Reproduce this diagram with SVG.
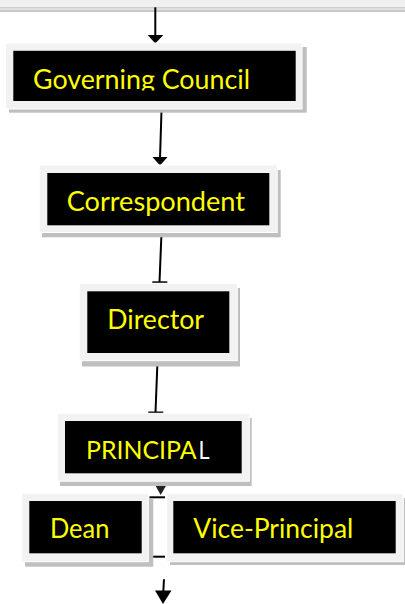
<svg xmlns="http://www.w3.org/2000/svg" width="405" height="604" viewBox="0 0 405 604">
<style>
.shadow{fill:#bfbfbf}
.frame{fill:#f2f2f2;stroke:#ffffff;stroke-width:1}
.inner{fill:#000000}
.lbl{font-family:Lato,"Open Sans","Noto Sans",sans-serif;font-size:26px;fill:#ffff00}
.pl{font-size:25.3px}
.ln{stroke:#000000;stroke-width:2;fill:none}
.bar{stroke:#000000;stroke-width:2}
</style>
<defs>
<clipPath id="gcclip"><rect x="13" y="51" width="283" height="39.5"/></clipPath>
</defs>
<rect x="0" y="0" width="405" height="7.3" fill="#f0f0f0"/>
<rect x="0" y="7.3" width="405" height="1.2" fill="#bdbdbd"/>
<rect x="0" y="9.5" width="405" height="2.6" fill="#c8c8c8"/>

<g id="connectors">
<line class="ln" x1="155.3" y1="7.3" x2="155.3" y2="37"/>
<polygon points="147.7,35 163.3,35 155.3,43.5" fill="#000"/>
<line class="ln" x1="161.5" y1="110" x2="160" y2="159"/>
<polygon points="152.5,157 167.5,157 160,165.5" fill="#000"/>
<line class="ln" x1="161.5" y1="233" x2="159.5" y2="282"/>
<line class="bar" x1="152.3" y1="282.3" x2="167.3" y2="282.3"/>
<line class="ln" x1="157.5" y1="361" x2="155.5" y2="412"/>
<line class="bar" x1="148.3" y1="412.5" x2="163.3" y2="412.5"/>
<polygon points="153.3,481.7 168.3,481.7 160.7,495" fill="#222"/>
<line class="bar" x1="149.5" y1="497.3" x2="165" y2="497.3"/>
<line class="bar" x1="149.5" y1="556.7" x2="165" y2="556.7"/>
<line class="ln" x1="164" y1="579.3" x2="163.2" y2="593"/>
<polygon points="155,590.5 171.5,590.5 163,604" fill="#000"/>
</g>

<g id="governing-council">
<rect class="shadow" x="9" y="47" width="297.7" height="65.7"/>
<rect class="frame" x="5.5" y="43" width="296.5" height="66"/>
<rect class="inner" x="13.3" y="50.8" width="282.4" height="50.2"/>
<text class="lbl" x="33" y="89" textLength="217" lengthAdjust="spacingAndGlyphs" clip-path="url(#gcclip)">Governing Council</text>
</g>

<g id="correspondent">
<rect class="shadow" x="42" y="170" width="238.7" height="67.3"/>
<rect class="frame" x="39.3" y="165" width="237.9" height="67.5"/>
<rect class="inner" x="47.3" y="173" width="222" height="52.3"/>
<text class="lbl" x="66.7" y="210.7" textLength="178.3" lengthAdjust="spacingAndGlyphs">Correspondent</text>
</g>

<g id="director">
<rect class="shadow" x="82" y="288" width="158" height="78.5"/>
<rect class="frame" x="79.3" y="283.3" width="158" height="77.4"/>
<rect class="inner" x="87.3" y="291.3" width="142" height="61.7"/>
<text class="lbl" x="107.3" y="329.3" textLength="96.7" lengthAdjust="spacingAndGlyphs">Director</text>
</g>

<g id="principal">
<rect class="shadow" x="60" y="418" width="191.7" height="68"/>
<rect class="frame" x="57.3" y="413.3" width="192" height="67.9"/>
<rect class="inner" x="65" y="421" width="176.7" height="52.3"/>
<text class="lbl pl" x="86" y="459.3" textLength="110.5" lengthAdjust="spacingAndGlyphs">PRINCIPA</text>
<text class="lbl pl" x="198.5" y="459.3" textLength="11" lengthAdjust="spacingAndGlyphs" style="fill:#ffffff">L</text>
</g>

<g id="dean">
<rect class="shadow" x="25" y="498" width="128.3" height="68.7"/>
<rect class="frame" x="21.7" y="493.3" width="126.6" height="68.4"/>
<rect class="inner" x="29.3" y="501" width="112.4" height="52.3"/>
<text class="lbl" x="50" y="538.3" textLength="59.3" lengthAdjust="spacingAndGlyphs">Dean</text>
</g>

<g id="vice-principal">
<rect class="shadow" x="170" y="498" width="240" height="67"/>
<rect class="frame" x="166.7" y="493.3" width="236.6" height="68.4"/>
<rect class="inner" x="173.3" y="501" width="222.4" height="52.3"/>
<text class="lbl" x="193.3" y="538.3" textLength="160" lengthAdjust="spacingAndGlyphs">Vice-Principal</text>
</g>
</svg>
